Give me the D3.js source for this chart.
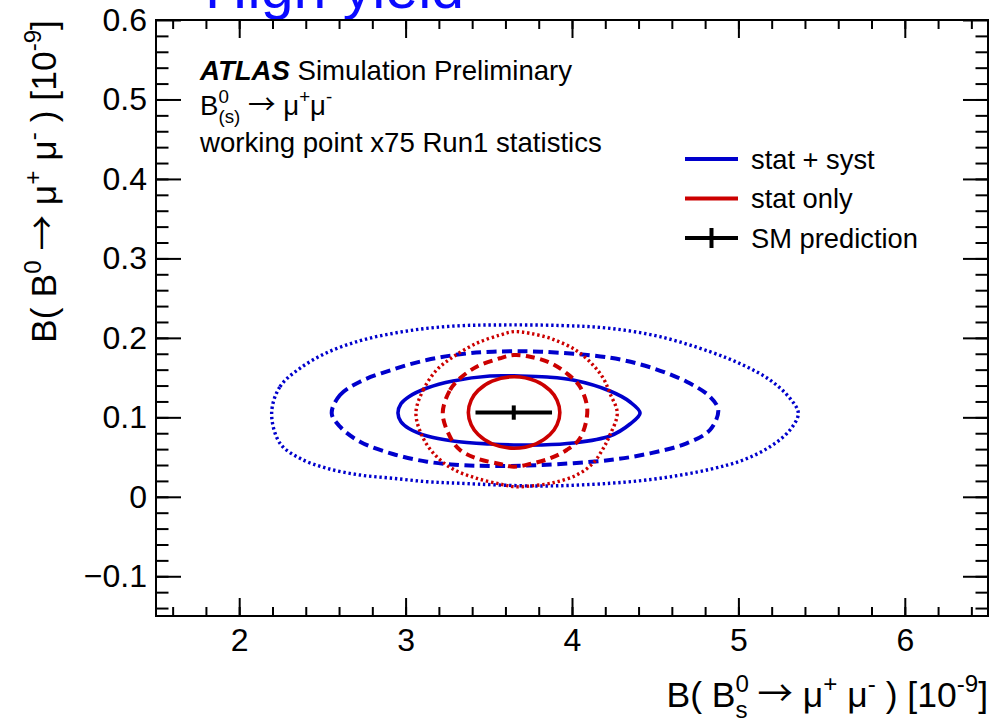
<!DOCTYPE html>
<html>
<head>
<meta charset="utf-8">
<script src="https://cdn.jsdelivr.net/npm/d3@7"></script>
<style>
	body { margin: 0; background: #fff; }
	svg text { font-family: 'Liberation Sans', Arial, Helvetica, sans-serif; white-space: pre; }
</style>
</head>
<body>
<svg id="chart" width="994" height="723"></svg>
<script>

// SM prediction (central value and uncertainty), in units of 10^-9
var smValue = [ 3.65, 0.106 ];
var smError = [ 0.23, 0.009 ];

var xMajorTicks = [ 2, 3, 4, 5, 6 ];
var yMajorTicks = [ -0.1, 0, 0.1, 0.2, 0.3, 0.4, 0.5, 0.6 ];

// contours: [ B(Bs), B(Bd) ]
var systSigma1 = [
	[ 2.954, 0.1054 ], [ 2.972, 0.1170 ], [ 3.020, 0.1260 ], [ 3.129, 0.1369 ], [ 3.285, 0.1457 ],
	[ 3.507, 0.1520 ], [ 3.688, 0.1520 ], [ 3.850, 0.1507 ], [ 4.006, 0.1469 ], [ 4.228, 0.1331 ],
	[ 4.349, 0.1193 ], [ 4.409, 0.1054 ], [ 4.349, 0.0916 ], [ 4.228, 0.0765 ], [ 4.006, 0.0677 ],
	[ 3.808, 0.0652 ], [ 3.651, 0.0652 ], [ 3.507, 0.0664 ], [ 3.285, 0.0702 ], [ 3.129, 0.0765 ],
	[ 3.020, 0.0860 ], [ 2.972, 0.0945 ]
];
var systSigma2 = [
	[ 2.556, 0.1051 ], [ 2.606, 0.1281 ], [ 2.726, 0.1448 ], [ 2.926, 0.1604 ], [ 3.127, 0.1721 ],
	[ 3.327, 0.1793 ], [ 3.525, 0.1826 ], [ 3.808, 0.1826 ], [ 4.228, 0.1750 ], [ 4.469, 0.1630 ],
	[ 4.689, 0.1448 ], [ 4.829, 0.1260 ], [ 4.879, 0.1092 ], [ 4.829, 0.0841 ], [ 4.689, 0.0673 ],
	[ 4.469, 0.0547 ], [ 4.228, 0.0463 ], [ 3.808, 0.0400 ], [ 3.525, 0.0388 ], [ 3.327, 0.0400 ],
	[ 3.129, 0.0442 ], [ 2.923, 0.0539 ], [ 2.726, 0.0693 ], [ 2.606, 0.0882 ]
];
var systSigma3 = [
	[ 2.195, 0.1051 ], [ 2.245, 0.1385 ], [ 2.365, 0.1617 ], [ 2.526, 0.1813 ], [ 2.726, 0.1964 ],
	[ 2.926, 0.2057 ], [ 3.127, 0.2120 ], [ 3.327, 0.2153 ], [ 3.525, 0.2162 ], [ 3.928, 0.2156 ],
	[ 4.228, 0.2120 ], [ 4.529, 0.2015 ], [ 4.829, 0.1826 ], [ 5.028, 0.1658 ], [ 5.190, 0.1470 ],
	[ 5.310, 0.1239 ], [ 5.360, 0.1051 ], [ 5.310, 0.0841 ], [ 5.190, 0.0630 ], [ 5.028, 0.0463 ],
	[ 4.829, 0.0346 ], [ 4.529, 0.0233 ], [ 4.228, 0.0170 ], [ 3.808, 0.0136 ], [ 3.327, 0.0170 ],
	[ 3.129, 0.0190 ], [ 2.923, 0.0233 ], [ 2.726, 0.0274 ], [ 2.526, 0.0359 ], [ 2.365, 0.0484 ],
	[ 2.245, 0.0673 ]
];
var statSigma1 = [
	[ 3.377, 0.1061 ], [ 3.394, 0.1216 ], [ 3.436, 0.1339 ], [ 3.520, 0.1456 ], [ 3.652, 0.1511 ],
	[ 3.784, 0.1456 ], [ 3.868, 0.1339 ], [ 3.910, 0.1216 ], [ 3.927, 0.1061 ], [ 3.910, 0.0906 ],
	[ 3.868, 0.0783 ], [ 3.784, 0.0666 ], [ 3.652, 0.0611 ], [ 3.520, 0.0666 ], [ 3.436, 0.0783 ],
	[ 3.394, 0.0906 ]
];
var statSigma2 = [
	[ 3.223, 0.1051 ], [ 3.267, 0.1344 ], [ 3.327, 0.1491 ], [ 3.427, 0.1637 ], [ 3.567, 0.1743 ],
	[ 3.651, 0.1784 ], [ 3.748, 0.1763 ], [ 3.868, 0.1687 ], [ 3.968, 0.1554 ], [ 4.048, 0.1385 ],
	[ 4.092, 0.1092 ], [ 4.048, 0.0736 ], [ 3.968, 0.0589 ], [ 3.868, 0.0484 ], [ 3.748, 0.0413 ],
	[ 3.651, 0.0379 ], [ 3.567, 0.0413 ], [ 3.427, 0.0484 ], [ 3.327, 0.0589 ], [ 3.267, 0.0756 ]
];
var statSigma3 = [
	[ 3.062, 0.1051 ], [ 3.106, 0.1344 ], [ 3.187, 0.1596 ], [ 3.287, 0.1763 ], [ 3.427, 0.1932 ],
	[ 3.567, 0.2036 ], [ 3.651, 0.2078 ], [ 3.748, 0.2057 ], [ 3.886, 0.1982 ], [ 4.028, 0.1838 ],
	[ 4.126, 0.1659 ], [ 4.188, 0.1491 ], [ 4.228, 0.1302 ], [ 4.272, 0.1051 ], [ 4.228, 0.0778 ],
	[ 4.188, 0.0610 ], [ 4.126, 0.0422 ], [ 4.028, 0.0274 ], [ 3.886, 0.0177 ], [ 3.748, 0.0136 ],
	[ 3.651, 0.0127 ], [ 3.567, 0.0161 ], [ 3.427, 0.0233 ], [ 3.287, 0.0346 ], [ 3.187, 0.0505 ],
	[ 3.106, 0.0736 ]
];

var legendLabels = [ 'stat + syst', 'stat only', 'SM prediction' ];

var BLUE = '#0000cc';
var RED = '#cc0000';

var frame = { left: 156, right: 988, top: 20, bottom: 616 };

var svg = d3.select( '#chart' );

var x = d3.scaleLinear().domain( [ 1.5, 6.5 ] ).range( [ frame.left, frame.right ] );
var y = d3.scaleLinear().domain( [ -0.15, 0.6 ] ).range( [ frame.bottom, frame.top ] );

var xMinor = d3.range( 16, 65, 2 ).map( function ( d ) { return d / 10; } );
var yMinor = d3.range( -14, 60, 2 ).map( function ( d ) { return d / 100; } );

// writes text with super/subscripts; 'under' puts a subscript below the previous superscript,
// 'sym' uses a font with a long thin arrow glyph
function richText( sel, parts, size ) {
	var shift = 0;
	var prev = null;
	parts.forEach( function ( p ) {
		var t = sel.append( 'tspan' ).text( p[0] );
		var target = 0;
		var fs = size;
		if ( p[1] === 'sup' ) {
			target = -0.42 * size; fs = 0.68 * size;
		} else if ( p[1] === 'sub' || p[1] === 'under' ) {
			target = 0.3 * size; fs = 0.68 * size;
		} else if ( p[1] === 'sym' ) {
			t.attr( 'font-family', '"Noto Sans CJK JP", "DejaVu Sans"' );
			target = -0.02 * size;
		}
		t.attr( 'font-size', fs ).attr( 'dy', target - shift );
		if ( p[1] === 'under' && prev ) {
			t.attr( 'dx', -prev.node().getComputedTextLength() );
		}
		shift = target;
		prev = t;
	} );
}

// cut-off page title
svg.append( 'text' )
	.attr( 'x', 205 )
	.attr( 'y', 8 )
	.attr( 'font-size', 59 )
	.attr( 'fill', '#0a0aff' )
	.text( 'High yield' );

// contours
var line = d3.line()
	.x( function ( d ) { return x( d[0] ); } )
	.y( function ( d ) { return y( d[1] ); } )
	.curve( d3.curveCatmullRomClosed.alpha( 0.5 ) );

var plot = svg.append( 'g' );

var contours = [
	{ data: systSigma3, color: BLUE, width: 3.4, dash: '2.4,2.8' },
	{ data: systSigma2, color: BLUE, width: 4, dash: '10,5.5' },
	{ data: systSigma1, color: BLUE, width: 3.6, dash: null },
	{ data: statSigma3, color: RED, width: 3.4, dash: '2.4,2.8' },
	{ data: statSigma2, color: RED, width: 4, dash: '9,5.5' },
	{ data: statSigma1, color: RED, width: 3.6, dash: null }
];

contours.forEach( function ( c ) {
	plot.append( 'path' )
		.datum( c.data )
		.attr( 'd', line )
		.attr( 'fill', 'none' )
		.attr( 'stroke', c.color )
		.attr( 'stroke-width', c.width )
		.attr( 'stroke-dasharray', c.dash );
} );

// SM prediction cross
plot.append( 'line' )
	.attr( 'x1', x( smValue[0] - smError[0] ) ).attr( 'x2', x( smValue[0] + smError[0] ) )
	.attr( 'y1', y( smValue[1] ) ).attr( 'y2', y( smValue[1] ) )
	.attr( 'stroke', '#000' ).attr( 'stroke-width', 4 );
plot.append( 'line' )
	.attr( 'x1', x( smValue[0] ) ).attr( 'x2', x( smValue[0] ) )
	.attr( 'y1', y( smValue[1] - smError[1] ) ).attr( 'y2', y( smValue[1] + smError[1] ) )
	.attr( 'stroke', '#000' ).attr( 'stroke-width', 4 );

// axes, ticks pointing inwards on all four sides
var xLen = 18, yLen = 25;

function styleAxis( g ) {
	g.select( '.domain' ).remove();
	g.selectAll( '.tick line' ).attr( 'stroke', '#000' ).attr( 'stroke-width', 2 );
	g.selectAll( '.tick text' ).attr( 'fill', '#000' ).attr( 'font-size', 32 ).attr( 'font-family', null );
}

svg.append( 'g' ).attr( 'transform', 'translate(0,' + frame.bottom + ')' )
	.call( d3.axisBottom( x ).tickValues( xMinor ).tickSize( -xLen / 2 ).tickFormat( '' ) ).call( styleAxis );
svg.append( 'g' ).attr( 'transform', 'translate(0,' + frame.bottom + ')' )
	.call( d3.axisBottom( x ).tickValues( xMajorTicks ).tickSize( -xLen ).tickPadding( 12 )
		.tickFormat( d3.format( 'd' ) ) ).call( styleAxis );
svg.append( 'g' ).attr( 'transform', 'translate(0,' + frame.top + ')' )
	.call( d3.axisTop( x ).tickValues( xMinor ).tickSize( -xLen / 2 ).tickFormat( '' ) ).call( styleAxis );
svg.append( 'g' ).attr( 'transform', 'translate(0,' + frame.top + ')' )
	.call( d3.axisTop( x ).tickValues( xMajorTicks ).tickSize( -xLen ).tickFormat( '' ) ).call( styleAxis );

svg.append( 'g' ).attr( 'transform', 'translate(' + frame.left + ',0)' )
	.call( d3.axisLeft( y ).tickValues( yMinor ).tickSize( -yLen / 2 ).tickFormat( '' ) ).call( styleAxis );
svg.append( 'g' ).attr( 'transform', 'translate(' + frame.left + ',0)' )
	.call( d3.axisLeft( y ).tickValues( yMajorTicks ).tickSize( -yLen ).tickPadding( 9 )
		.tickFormat( function ( d ) { return d === 0 ? '0' : d3.format( '.1f' )( d ); } ) ).call( styleAxis );
svg.append( 'g' ).attr( 'transform', 'translate(' + frame.right + ',0)' )
	.call( d3.axisRight( y ).tickValues( yMinor ).tickSize( -yLen / 2 ).tickFormat( '' ) ).call( styleAxis );
svg.append( 'g' ).attr( 'transform', 'translate(' + frame.right + ',0)' )
	.call( d3.axisRight( y ).tickValues( yMajorTicks ).tickSize( -yLen ).tickFormat( '' ) ).call( styleAxis );

svg.append( 'rect' )
	.attr( 'x', frame.left ).attr( 'y', frame.top )
	.attr( 'width', frame.right - frame.left ).attr( 'height', frame.bottom - frame.top )
	.attr( 'fill', 'none' ).attr( 'stroke', '#000' ).attr( 'stroke-width', 2 );

// axis titles
var titleSize = 35.5;

var xTitle = svg.append( 'text' )
	.attr( 'x', frame.right ).attr( 'y', 707 )
	.attr( 'text-anchor', 'end' ).attr( 'font-size', titleSize );
richText( xTitle, [
	[ 'B( B', '' ], [ '0', 'sup' ], [ 's', 'under' ], [ ' ', '' ], [ '\u2192', 'sym' ], [ ' \u03bc', '' ], [ '+', 'sup' ],
	[ ' \u03bc', '' ], [ '-', 'sup' ], [ ' ) [10', '' ], [ '-9', 'sup' ], [ ']', '' ]
], titleSize );

var yTitle = svg.append( 'text' )
	.attr( 'transform', 'translate(56,' + frame.top + ') rotate(-90)' )
	.attr( 'text-anchor', 'end' ).attr( 'font-size', titleSize );
richText( yTitle, [
	[ 'B( B', '' ], [ '0', 'sup' ], [ ' ', '' ], [ '\u2192', 'sym' ], [ ' \u03bc', '' ], [ '+', 'sup' ],
	[ ' \u03bc', '' ], [ '-', 'sup' ], [ ' ) [10', '' ], [ '-9', 'sup' ], [ ']', '' ]
], titleSize );

// ATLAS label block
var infoSize = 27.6;
var info = svg.append( 'g' ).attr( 'font-size', infoSize );
var atlas = info.append( 'text' ).attr( 'x', 200 ).attr( 'y', 80 );
atlas.append( 'tspan' ).attr( 'font-weight', 'bold' ).attr( 'font-style', 'italic' ).text( 'ATLAS' );
atlas.append( 'tspan' ).text( ' Simulation Preliminary' );

var decay = info.append( 'text' ).attr( 'x', 200 ).attr( 'y', 115 );
richText( decay, [
	[ 'B', '' ], [ '0', 'sup' ], [ '(s)', 'under' ], [ ' ', '' ], [ '\u2192', 'sym' ], [ ' \u03bc', '' ], [ '+', 'sup' ],
	[ '\u03bc', '' ], [ '-', 'sup' ]
], infoSize );

info.append( 'text' ).attr( 'x', 200 ).attr( 'y', 152 ).text( 'working point x75 Run1 statistics' );

// legend
var legend = svg.append( 'g' ).attr( 'transform', 'translate(685,159)' );
var rowGap = 39.5;

legendLabels.forEach( function ( label, i ) {
	var row = legend.append( 'g' ).attr( 'transform', 'translate(0,' + ( i * rowGap ) + ')' );
	var color = i === 0 ? BLUE : ( i === 1 ? RED : '#000' );
	row.append( 'line' )
		.attr( 'x1', 0 ).attr( 'x2', 53 ).attr( 'y1', 0 ).attr( 'y2', 0 )
		.attr( 'stroke', color ).attr( 'stroke-width', 4 );
	if ( i === 2 ) {
		row.append( 'line' )
			.attr( 'x1', 26.5 ).attr( 'x2', 26.5 ).attr( 'y1', -10 ).attr( 'y2', 10 )
			.attr( 'stroke', color ).attr( 'stroke-width', 4 );
	}
	row.append( 'text' )
		.attr( 'x', 66 ).attr( 'y', 9.5 )
		.attr( 'font-size', 27.3 )
		.text( label );
} );

</script>
</body>
</html>
